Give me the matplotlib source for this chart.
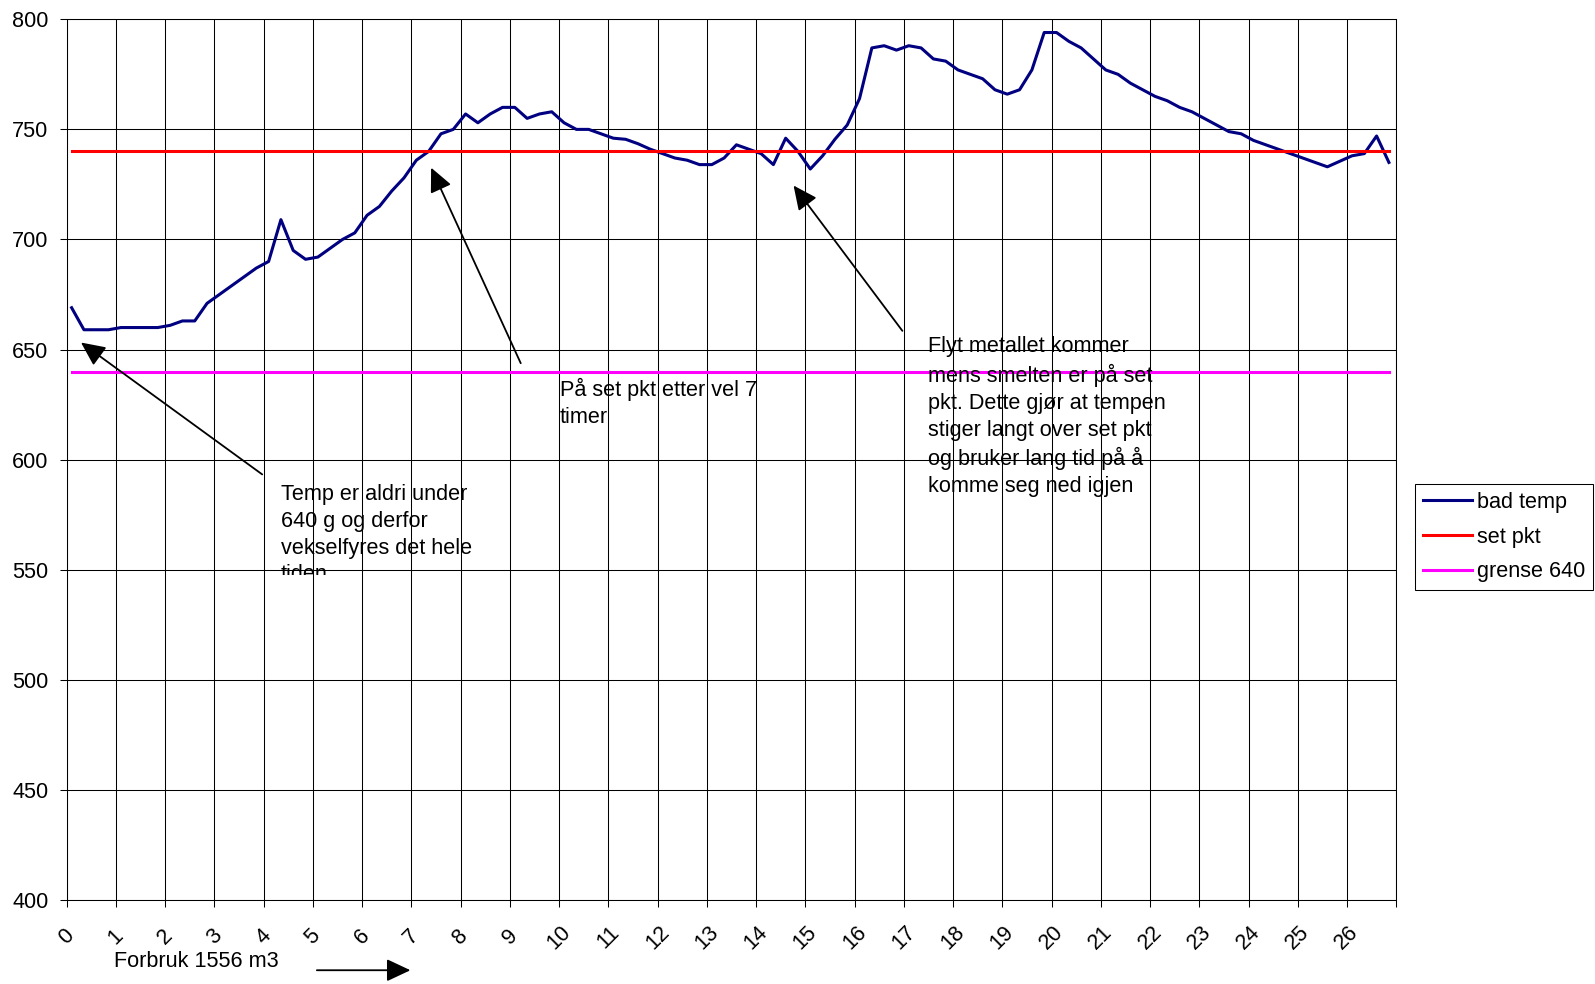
import numpy as np
import matplotlib
matplotlib.use("Agg")
import matplotlib.pyplot as plt
from matplotlib.transforms import Bbox, TransformedBbox

plt.rcParams['font.family'] = ['Liberation Sans', 'DejaVu Sans']

# Bath temperature, sampled every quarter hour
bad_temp = [669, 659, 659, 659, 660, 660, 660, 660, 661, 663,
            663, 671, 675, 679, 683, 687, 690, 709, 695, 691,
            692, 696, 700, 703, 711, 715, 722, 728, 736, 740,
            748, 750, 757, 753, 757, 760, 760, 755, 757, 758,
            753, 750, 750, 748, 746, 745.5, 743.5, 741, 739, 737,
            736, 734, 734, 737, 743, 741, 739, 734, 746, 740,
            732, 738, 745.5, 752, 764, 787, 788, 786, 788, 787,
            782, 781, 777, 775, 773, 768, 766, 768, 777, 794,
            794, 790, 787, 782, 777, 775, 771, 768, 765, 763,
            760, 758, 755, 752, 749, 748, 745, 743, 741, 739,
            737, 735, 733, 735.5, 738, 739, 747, 735]
hours = 0.1 + 0.25 * np.arange(len(bad_temp))
set_pkt = [740] * len(bad_temp)
grense_640 = [640] * len(bad_temp)

x_ticks = list(range(28))
x_tick_labels = [str(i) for i in range(27)] + ['']
y_ticks = [400, 450, 500, 550, 600, 650, 700, 750, 800]

W, H = 1595, 984
FS = 15.6
LINE_STEP = 27.7  # pixels between text baselines

fig = plt.figure(figsize=(W / 100, H / 100), dpi=100)
ax = fig.add_axes([66.7 / W, 1 - 900 / H, (1396.3 - 66.7) / W, (900 - 19.3) / H])

ax.plot(hours, bad_temp, color='#000080', lw=2.2, label='bad temp')
ax.plot(hours, set_pkt, color='#FF0000', lw=2.2, label='set pkt')
ax.plot(hours, grense_640, color='#FF00FF', lw=2.2, label='grense 640')

ax.set_xlim(0, 27)
ax.set_ylim(400, 800)
ax.set_xticks(x_ticks)
ax.set_xticklabels(x_tick_labels, rotation=45, ha='center', va='center')
ax.set_yticks(y_ticks)
ax.tick_params(axis='y', length=4.8, width=0.75, pad=8.4, labelsize=FS)
ax.tick_params(axis='x', length=4.8, width=0.75, pad=22, labelsize=FS)
ax.grid(True, color='black', lw=0.75)
ax.set_axisbelow(True)
for s in ax.spines.values():
    s.set_color('black')
    s.set_linewidth(0.75)

leg = ax.legend(loc='upper left', bbox_to_anchor=(1415 / W, 1 - 484 / H),
                bbox_transform=fig.transFigure, borderaxespad=0,
                frameon=True, fancybox=False, edgecolor='black', framealpha=1,
                fontsize=FS, handlelength=2.26, handletextpad=0.23,
                labelspacing=0.63, borderpad=0.37)
leg.get_frame().set_linewidth(0.75)

arrow_kw = dict(arrowstyle='-|>,head_length=1.47,head_width=0.69',
                mutation_scale=10, color='black', lw=1.3,
                shrinkA=0, shrinkB=0)

# Arrows pointing at features of the curve
ax.annotate('', xy=(0.29, 653.2), xytext=(3.97, 593.3), arrowprops=arrow_kw)
ax.annotate('', xy=(7.40, 732.6), xytext=(9.22, 643.8), arrowprops=arrow_kw)
ax.annotate('', xy=(14.76, 724.5), xytext=(16.97, 658.5), arrowprops=arrow_kw)
ax.annotate('', xy=(6.98, 368.1), xytext=(5.08, 368.1), arrowprops=arrow_kw,
            annotation_clip=False)


def note(px, first_baseline, txt):
    # multi-line text is anchored on its last baseline
    n = txt.count('\n')
    py = first_baseline + n * LINE_STEP
    return fig.text(px / W, 1 - py / H, txt, fontsize=FS, va='baseline',
                    ha='left', linespacing=1.36, color='black')


t1 = note(280.7, 497.3,
          "Temp er aldri under\n640 g og derfor\nvekselfyres det hele\ntiden")
clip = TransformedBbox(Bbox.from_extents(270 / W, 1 - 575 / H, 520 / W, 1 - 460 / H),
                       fig.transFigure)
t1.set_clip_box(clip)
t1.set_clip_on(True)

note(560, 395, "På set pkt etter vel 7\ntimer")
note(927.7, 353.5,
     "Flyt metallet kommer\nmens smelten er på set\npkt. Dette gjør at tempen\n"
     "stiger langt over set pkt\nog bruker lang tid på å\nkomme seg ned igjen")
note(114, 967, "Forbruk 1556 m3")

fig.savefig('out.png', dpi=100)
